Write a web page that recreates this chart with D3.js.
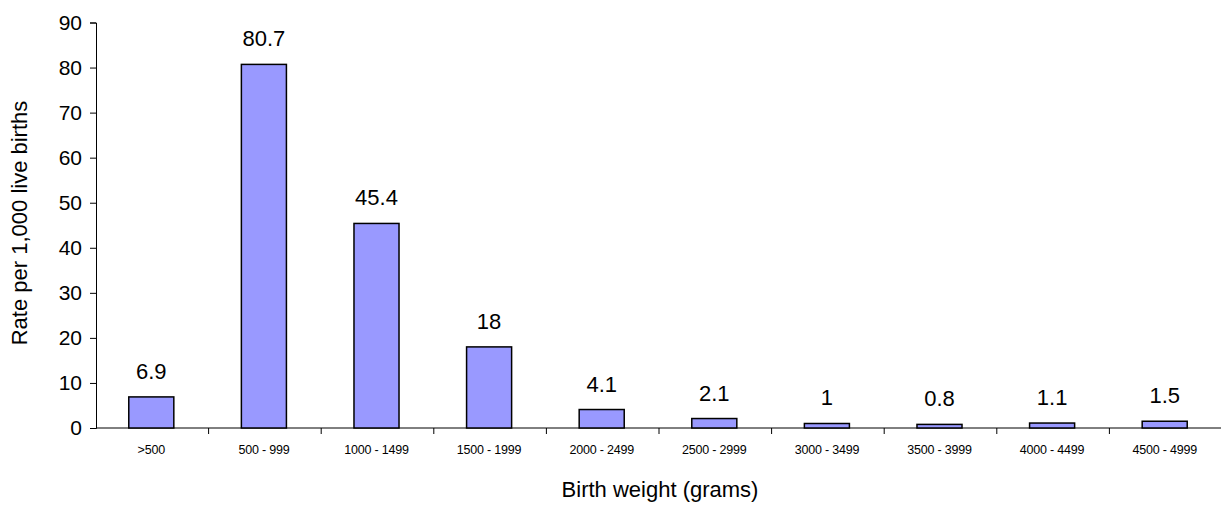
<!DOCTYPE html>
<html>
<head>
<meta charset="utf-8">
<script src="https://cdn.jsdelivr.net/npm/d3@7"></script>
<style>
  html, body { margin: 0; padding: 0; background: #fff; }
  svg { display: block; font-family: Arial, "Liberation Sans", sans-serif; }
</style>
</head>
<body>
<svg id="chart" width="1221" height="511"></svg>
<script>
// Infant mortality rate by birth weight group
const categories = [">500", "500 - 999", "1000 - 1499", "1500 - 1999", "2000 - 2499",
                    "2500 - 2999", "3000 - 3499", "3500 - 3999", "4000 - 4499", "4500 - 4999"];
const rates = [6.9, 80.7, 45.4, 18, 4.1, 2.1, 1, 0.8, 1.1, 1.5];
const yTicks = [0, 10, 20, 30, 40, 50, 60, 70, 80, 90];

const svg = d3.select("#chart");
const plot = { left: 96, right: 1222, top: 22.5, bottom: 428 };

const x = d3.scaleBand().domain(categories).range([plot.left, plot.right]).paddingInner(0).paddingOuter(0);
const y = d3.scaleLinear().domain([0, 90]).range([plot.bottom, plot.top]);

// y axis
const yAxis = svg.append("g").attr("transform", `translate(${plot.left},0)`)
  .call(d3.axisLeft(y).tickValues(yTicks).tickSize(6).tickPadding(8).tickFormat(d3.format("d")));
yAxis.select(".domain").attr("stroke", "#000").attr("stroke-width", 1);
yAxis.selectAll(".tick line").attr("stroke", "#000");
yAxis.selectAll(".tick text").attr("font-size", 21).attr("fill", "#000")
  .attr("font-family", "Arial, 'Liberation Sans', sans-serif");

// x axis with ticks at band boundaries
const xAxisG = svg.append("g").attr("transform", `translate(0,${plot.bottom})`);
xAxisG.append("line").attr("x1", plot.left).attr("x2", plot.right).attr("y1", 0).attr("y2", 0)
  .attr("stroke", "#000").attr("stroke-width", 1);
const boundaries = categories.map(c => x(c)).concat([x(categories[categories.length - 1]) + x.bandwidth()]);
xAxisG.selectAll("line.tk").data(boundaries.slice(1)).join("line").attr("class", "tk")
  .attr("x1", d => d).attr("x2", d => d).attr("y1", 0).attr("y2", 6)
  .attr("stroke", "#000");
xAxisG.selectAll("text").data(categories).join("text")
  .attr("x", d => x(d) + x.bandwidth() / 2 - 1)
  .attr("y", 26)
  .attr("text-anchor", "middle")
  .attr("font-size", 12.5)
  .attr("letter-spacing", -0.2)
  .text(d => d);

// bars
const barW = x.bandwidth() * 0.4;
svg.append("g").selectAll("rect").data(rates).join("rect")
  .attr("x", (d, i) => x(categories[i]) + x.bandwidth() / 2 - 1 - barW / 2)
  .attr("y", d => y(d))
  .attr("width", barW)
  .attr("height", d => y(0) - y(d))
  .attr("fill", "#9999ff")
  .attr("stroke", "#000")
  .attr("stroke-width", 1.5);

// value labels
svg.append("g").selectAll("text").data(rates).join("text")
  .attr("x", (d, i) => x(categories[i]) + x.bandwidth() / 2 - 1)
  .attr("y", d => y(d) - 18)
  .attr("text-anchor", "middle")
  .attr("font-size", 22)
  .text(d => d);

// axis titles
svg.append("text").attr("x", 660).attr("y", 497).attr("text-anchor", "middle")
  .attr("font-size", 22).text("Birth weight (grams)");
svg.append("text").attr("transform", "translate(27,223) rotate(-90)")
  .attr("text-anchor", "middle").attr("font-size", 22).text("Rate per 1,000 live births");
</script>
</body>
</html>
